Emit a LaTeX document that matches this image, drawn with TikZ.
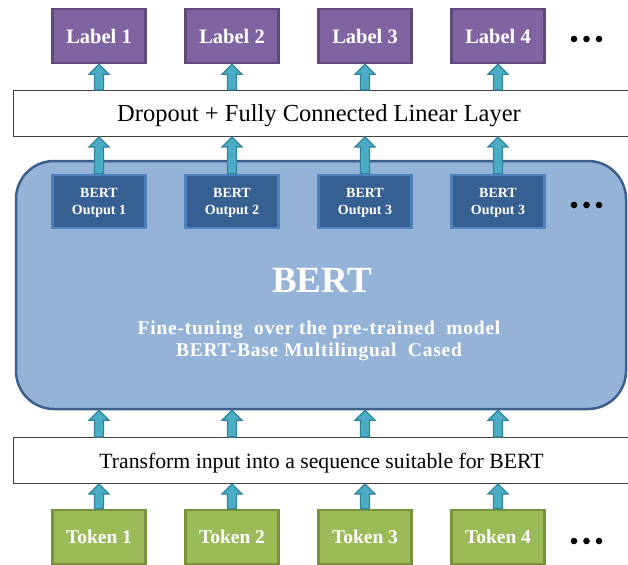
\documentclass[tikz,border=0pt]{standalone}
\usepackage{fontspec}
\setmainfont{Liberation Serif}
\usetikzlibrary{calc}

\definecolor{labelfill}{HTML}{8064A2}
\definecolor{labelline}{HTML}{5F4B7B}
\definecolor{outfill}{HTML}{376092}
\definecolor{outedge}{HTML}{4F81BD}
\definecolor{bertfill}{HTML}{95B3D7}
\definecolor{bertline}{HTML}{3C5F8C}
\definecolor{tokfill}{HTML}{9BBB59}
\definecolor{tokline}{HTML}{76923C}
\definecolor{arrfill}{HTML}{4BACC6}
\definecolor{arrline}{HTML}{31849B}

\tikzset{
	labelbox/.style={draw=labelline, fill=labelfill, line width=2.5pt, minimum width=93pt, minimum height=54pt, inner sep=0pt, text=white, font=\fontsize{20.5}{22}\selectfont\bfseries},
	tokenbox/.style={labelbox, draw=tokline, fill=tokfill, font=\fontsize{19.5}{22}\selectfont\bfseries},
	outbox/.style={draw=outedge, fill=outfill, line width=2.5pt, minimum width=93pt, minimum height=53pt, inner sep=0pt, text depth=0pt, align=center, text=white, font=\fontsize{14}{17}\selectfont\bfseries},
	widebox/.style={draw=black!75, fill=white, line width=1pt, minimum width=627pt, minimum height=46pt, inner sep=0pt, text depth=0pt},
	bertbox/.style={draw=bertline, fill=bertfill, line width=2.5pt, rounded corners=38pt, minimum width=610pt, minimum height=248pt},
	blockarrow/.style={draw=arrline, fill=arrfill, line width=1.2pt, line join=miter}
}

% fat arrow from #1 up to #2
\newcommand{\upArrow}[2]{%
	\draw[blockarrow] let \p1=(#1), \p2=(#2) in
		(\x1-4.5pt,\y1) -- (\x1+4.5pt,\y1) -- (\x1+4.5pt,\y2-10pt) -- (\x1+10pt,\y2-10pt)
		-- (\x1,\y2) -- (\x1-10pt,\y2-10pt) -- (\x1-4.5pt,\y2-10pt) -- cycle;
}

\begin{document}
\begin{tikzpicture}[x=1pt, y=-1pt]
	\useasboundingbox (0,0) rectangle (628,564);
	\clip (0,0) rectangle (628,564);

	%BERT
	\node[bertbox] (bert) at (321,285) {};
	\node[text=white, font=\fontsize{37}{40}\selectfont\bfseries] (berttitle) at (322,280) {BERT};
	\node[text=white, align=center, font=\fontsize{19.5}{22.5}\selectfont\bfseries\addfontfeatures{LetterSpace=4}] (bertsub) at (319,341)
		{Fine-tuning\ \ over the pre-trained\ \ model\\BERT-Base Multilingual\ \ Cased};

	%wide layers
	\node[widebox, font=\fontsize{24.5}{28}\selectfont] (drop) at (326.5,113.5) {Dropout + Fully\ Connected Linear Layer\rule{15pt}{0pt}};
	\node[widebox, font=\fontsize{21.75}{25}\selectfont] (trans) at (326.5,460.5) {Transform\ input into a sequence suitable for BERT\rule{10pt}{0pt}};

	%labels, outputs, tokens
	\foreach \px/\i/\k in {99/1/1, 232/2/2, 365/3/3, 498/4/3}{
		\node[labelbox] (lab\i) at (\px,36) {Label \i};
		\node[outbox] (out\i) at (\px,201.5) {BERT\\Output \k};
		\node[tokenbox] (tok\i) at (\px,537) {Token \i};

		\upArrow{lab\i.south |- drop.north}{lab\i.south}
		\upArrow{out\i.north}{out\i.north |- drop.south}
		\upArrow{tok\i.north |- trans.north}{tok\i.north |- bert.south}
		\upArrow{tok\i.north}{tok\i.north |- trans.south}
	}

	%dots
	\foreach \py in {39,205,541}{
		\foreach \px in {574,586.5,599}{
			\fill (\px,\py) circle (3.3pt);
		}
	}
\end{tikzpicture}
\end{document}
